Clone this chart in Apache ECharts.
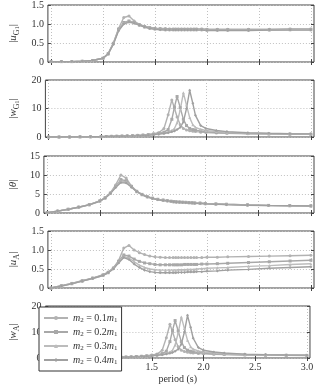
<!DOCTYPE html>
<html>
<head>
<meta charset="utf-8">
<script src="https://cdn.jsdelivr.net/npm/echarts@6/dist/echarts.min.js"></script>
<style>html,body{margin:0;padding:0;background:#fff}#chart{width:316px;height:385px}</style>
</head>
<body>
<div id="chart"></div>
<script>
// period grid (s), shared by every curve
var periods = [0.5,0.6,0.7,0.8,0.9,1.0,1.05,1.1,1.15,1.2,1.25,1.3,1.35,1.4,1.45,1.5,1.55,1.6,1.64,1.675,1.7,1.725,1.755,1.785,1.815,1.845,1.875,1.9,1.95,2.0,2.1,2.2,2.4,2.6,2.8,3.0];
var xTicks = [0.5,1.0,1.5,2.0,2.5,3.0];
var seriesNames = ['m01','m02','m03','m04'];
var massRatios = ['0.1','0.2','0.3','0.4'];

// |u_G1|
var uG1_m01 = [0.01,0.01,0.01,0.02,0.04,0.1,0.22,0.5,0.88,1.17,1.21,1.08,0.99,0.94,0.91,0.89,0.88,0.88,0.87,0.87,0.87,0.87,0.87,0.87,0.87,0.87,0.87,0.87,0.87,0.86,0.86,0.86,0.86,0.86,0.87,0.87];
var uG1_m02 = [0.01,0.01,0.01,0.02,0.04,0.1,0.22,0.49,0.86,1.04,1.08,1.04,0.98,0.93,0.9,0.88,0.87,0.86,0.86,0.86,0.86,0.86,0.86,0.86,0.86,0.86,0.86,0.86,0.86,0.85,0.85,0.85,0.85,0.85,0.86,0.86];
var uG1_m03 = [0.01,0.01,0.01,0.02,0.04,0.1,0.21,0.48,0.84,1.02,1.06,1.03,0.97,0.92,0.89,0.87,0.86,0.85,0.85,0.85,0.85,0.85,0.85,0.85,0.85,0.85,0.85,0.85,0.85,0.84,0.84,0.84,0.84,0.84,0.85,0.85];
var uG1_m04 = [0.01,0.01,0.01,0.02,0.04,0.1,0.21,0.47,0.82,1.0,1.05,1.02,0.97,0.92,0.88,0.86,0.85,0.84,0.84,0.84,0.84,0.84,0.84,0.84,0.84,0.84,0.84,0.84,0.84,0.83,0.83,0.83,0.83,0.84,0.84,0.84];

// |w_G1|
var wG1_m01 = [0,0.02,0.04,0.07,0.1,0.15,0.2,0.25,0.3,0.35,0.4,0.5,0.6,0.7,0.9,1.15,1.5,3.0,7.8,13.0,10.1,7.0,4.3,3.0,2.5,2.2,2.0,1.9,1.7,1.6,1.4,1.3,1.15,1.05,1.0,0.95];
var wG1_m02 = [0,0.02,0.04,0.07,0.1,0.14,0.18,0.23,0.28,0.33,0.38,0.45,0.55,0.65,0.8,1.0,1.3,1.7,2.6,6.2,10.5,14.2,10.3,6.2,4.0,3.0,2.6,2.4,2.1,1.9,1.6,1.45,1.25,1.1,1.05,1.0];
var wG1_m03 = [0,0.02,0.04,0.06,0.09,0.13,0.17,0.21,0.26,0.3,0.35,0.42,0.5,0.6,0.72,0.9,1.1,1.4,1.8,2.3,3.0,5.0,9.5,15.5,11.2,6.8,4.3,3.4,2.7,2.3,1.9,1.65,1.35,1.2,1.1,1.05];
var wG1_m04 = [0,0.02,0.03,0.06,0.08,0.12,0.16,0.2,0.24,0.28,0.32,0.38,0.45,0.54,0.65,0.8,1.0,1.25,1.5,1.8,2.1,2.6,3.4,5.3,10.0,16.4,11.8,7.6,4.0,3.0,2.3,1.9,1.5,1.3,1.15,1.1];

// |theta|
var th_m01 = [0.1,0.5,1.0,1.55,2.2,3.2,4.0,5.3,7.4,10.0,9.2,7.1,5.7,4.9,4.3,3.9,3.6,3.4,3.25,3.1,3.0,2.95,2.9,2.85,2.8,2.75,2.7,2.65,2.6,2.5,2.4,2.3,2.15,2.0,1.95,1.9];
var th_m02 = [0.1,0.5,1.0,1.55,2.2,3.2,4.0,5.2,7.0,8.8,8.5,7.0,5.7,4.9,4.3,3.9,3.6,3.4,3.25,3.1,3.0,2.95,2.9,2.85,2.8,2.75,2.7,2.65,2.6,2.5,2.4,2.3,2.15,2.0,1.95,1.9];
var th_m03 = [0.1,0.5,1.0,1.5,2.15,3.15,3.95,5.2,6.9,8.4,8.2,6.9,5.6,4.8,4.25,3.85,3.55,3.35,3.2,3.05,2.95,2.9,2.85,2.8,2.75,2.7,2.65,2.6,2.55,2.45,2.35,2.25,2.1,1.98,1.92,1.87];
var th_m04 = [0.1,0.5,0.95,1.5,2.15,3.1,3.9,5.1,6.7,8.0,7.9,6.8,5.6,4.8,4.2,3.8,3.5,3.3,3.15,3.0,2.9,2.85,2.8,2.75,2.7,2.65,2.6,2.55,2.5,2.4,2.3,2.2,2.05,1.95,1.9,1.85];

// |u_A|
var uA_m01 = [0,0.06,0.12,0.19,0.26,0.35,0.42,0.53,0.72,1.05,1.12,1.0,0.93,0.88,0.84,0.82,0.81,0.8,0.8,0.8,0.8,0.8,0.8,0.8,0.8,0.8,0.8,0.8,0.8,0.81,0.81,0.82,0.83,0.84,0.85,0.86];
var uA_m02 = [0,0.06,0.12,0.19,0.26,0.34,0.41,0.52,0.7,0.87,0.84,0.76,0.7,0.66,0.64,0.62,0.61,0.61,0.61,0.61,0.61,0.61,0.61,0.62,0.62,0.62,0.62,0.62,0.63,0.63,0.64,0.65,0.67,0.69,0.71,0.73];
var uA_m03 = [0,0.05,0.11,0.18,0.25,0.33,0.4,0.51,0.68,0.83,0.79,0.69,0.6,0.54,0.5,0.48,0.47,0.47,0.47,0.47,0.47,0.48,0.48,0.48,0.49,0.49,0.49,0.5,0.51,0.52,0.53,0.54,0.57,0.59,0.62,0.64];
var uA_m04 = [0,0.05,0.11,0.18,0.25,0.33,0.4,0.5,0.66,0.8,0.75,0.63,0.54,0.47,0.43,0.41,0.4,0.4,0.4,0.4,0.4,0.41,0.41,0.41,0.42,0.42,0.42,0.43,0.43,0.44,0.45,0.47,0.49,0.52,0.54,0.56];

// |w_A|
var wA_m01 = [0,0.02,0.04,0.07,0.1,0.15,0.2,0.25,0.3,0.35,0.4,0.5,0.6,0.7,0.9,1.15,1.5,3.0,7.8,13.0,10.1,7.0,4.3,3.0,2.5,2.2,2.0,1.9,1.7,1.6,1.4,1.3,1.15,1.05,1.0,0.95];
var wA_m02 = [0,0.02,0.04,0.07,0.1,0.14,0.18,0.23,0.28,0.33,0.38,0.45,0.55,0.65,0.8,1.0,1.3,1.7,2.6,6.3,10.6,14.4,10.4,6.3,4.0,3.0,2.6,2.4,2.1,1.9,1.6,1.45,1.25,1.1,1.05,1.0];
var wA_m03 = [0,0.02,0.04,0.06,0.09,0.13,0.17,0.21,0.26,0.3,0.35,0.42,0.5,0.6,0.72,0.9,1.1,1.4,1.8,2.3,3.0,5.0,9.6,15.8,11.3,6.8,4.3,3.4,2.7,2.3,1.9,1.65,1.35,1.2,1.1,1.05];
var wA_m04 = [0,0.02,0.03,0.06,0.08,0.12,0.16,0.2,0.24,0.28,0.32,0.38,0.45,0.54,0.65,0.8,1.0,1.25,1.5,1.8,2.1,2.6,3.4,5.3,10.0,16.4,11.8,7.6,4.0,3.0,2.3,1.9,1.5,1.3,1.15,1.1];

var FONT = '"Liberation Serif", "DejaVu Serif", serif';
var TXT = '#333';
var FRAME = '#444';
var colors = ['#b2b2b2', '#a8a8a8', '#bcbcbc', '#a0a0a0'];
var symbols = ['circle', 'rect', 'triangle', 'diamond'];

var nameRich = {
    i: {fontFamily: FONT, fontStyle: 'italic', fontSize: 11, color: TXT, lineHeight: 14},
    n: {fontFamily: FONT, fontSize: 11, color: TXT, lineHeight: 14},
    s: {fontFamily: FONT, fontSize: 8, color: TXT, verticalAlign: 'bottom', lineHeight: 14},
    ss: {fontFamily: FONT, fontSize: 6, color: TXT, verticalAlign: 'bottom', lineHeight: 14}
};

var panels = [
    {name: '{n||}{i|u}{s|G}{ss|1}{n||}', rows: [uG1_m01, uG1_m02, uG1_m03, uG1_m04], max: 1.5, step: 0.5, top: 5},
    {name: '{n||}{i|w}{s|G}{ss|1}{n||}', rows: [wG1_m01, wG1_m02, wG1_m03, wG1_m04], max: 20, step: 10, top: 80},
    {name: '{n||}{i|θ}{n||}', rows: [th_m01, th_m02, th_m03, th_m04], max: 15, step: 5, top: 156},
    {name: '{n||}{i|u}{s|A}{n||}', rows: [uA_m01, uA_m02, uA_m03, uA_m04], max: 1.5, step: 0.5, top: 231},
    {name: '{n||}{i|w}{s|A}{n||}', rows: [wA_m01, wA_m02, wA_m03, wA_m04], max: 20, step: 10, top: 306}
];

var grids = [], xAxes = [], yAxes = [], series = [];
var dotted = {type: [1, 2], color: '#c0c0c0', width: 1};

panels.forEach(function (p, i) {
    grids.push({left: 34, right: 2, top: p.top, height: 57, show: true, borderColor: FRAME, borderWidth: 1});
    ['bottom', 'top'].forEach(function (pos) {
        xAxes.push({
            type: 'value', gridIndex: i, position: pos, min: 0.47, max: 3.03,
            axisLine: {show: false},
            axisTick: {show: true, inside: true, length: 3, customValues: xTicks, lineStyle: {color: FRAME}},
            axisLabel: {show: pos === 'bottom' && i === 4, customValues: xTicks, margin: 4,
                formatter: function (v) { return v.toFixed(1); },
                fontFamily: FONT, fontSize: 10, color: TXT},
            splitLine: {show: pos === 'bottom', lineStyle: dotted},
            name: (pos === 'bottom' && i === 4) ? 'period (s)' : '',
            nameLocation: 'middle', nameGap: 16,
            nameTextStyle: {fontFamily: FONT, fontSize: 10, color: TXT}
        });
    });
    ['left', 'right'].forEach(function (pos) {
        yAxes.push({
            type: 'value', gridIndex: i, position: pos, min: 0, max: p.max, interval: p.step,
            axisLine: {show: false},
            axisTick: {show: true, inside: true, length: 3, lineStyle: {color: FRAME}},
            axisLabel: {show: pos === 'left', margin: 4, fontFamily: FONT, fontSize: 10, color: TXT,
                formatter: function (v) { return (v === 0 || p.step >= 1) ? String(v) : v.toFixed(1); }},
            splitLine: {show: pos === 'left', lineStyle: dotted},
            name: pos === 'left' ? p.name : '',
            nameLocation: 'middle', nameRotate: 90, nameGap: 18,
            nameTextStyle: {rich: nameRich}
        });
    });
    p.rows.forEach(function (row, k) {
        series.push({
            type: 'line', name: seriesNames[k],
            xAxisIndex: 2 * i, yAxisIndex: 2 * i,
            data: periods.map(function (t, j) { return [t, row[j]]; }),
            symbol: symbols[k], symbolSize: 3, showSymbol: true,
            lineStyle: {width: 1.4, color: colors[k]},
            itemStyle: {color: colors[k]},
            emphasis: {disabled: true},
            clip: true
        });
    });
});

var legendRich = {
    i: {fontFamily: FONT, fontStyle: 'italic', fontSize: 10, color: TXT, lineHeight: 12},
    t: {fontFamily: FONT, fontSize: 10, color: TXT, lineHeight: 12},
    s: {fontFamily: FONT, fontSize: 7, color: TXT, verticalAlign: 'bottom', lineHeight: 12}
};

var myChart = echarts.init(document.getElementById('chart'));
var option = {
    animation: false,
    backgroundColor: '#fff',
    grid: grids,
    xAxis: xAxes,
    yAxis: yAxes,
    legend: {
        orient: 'vertical', left: 39, top: 307,
        data: seriesNames,
        itemWidth: 24, itemHeight: 5, itemGap: 2,
        padding: [5, 4, 5, 4],
        backgroundColor: '#fff', borderColor: '#333', borderWidth: 1,
        formatter: function (n) {
            var r = massRatios[seriesNames.indexOf(n)];
            return '{i|m}{s|2}{t| = ' + r + '}{i|m}{s|1}';
        },
        textStyle: {rich: legendRich, lineHeight: 12}
    },
    series: series
};
myChart.setOption(option);
</script>
</body>
</html>
